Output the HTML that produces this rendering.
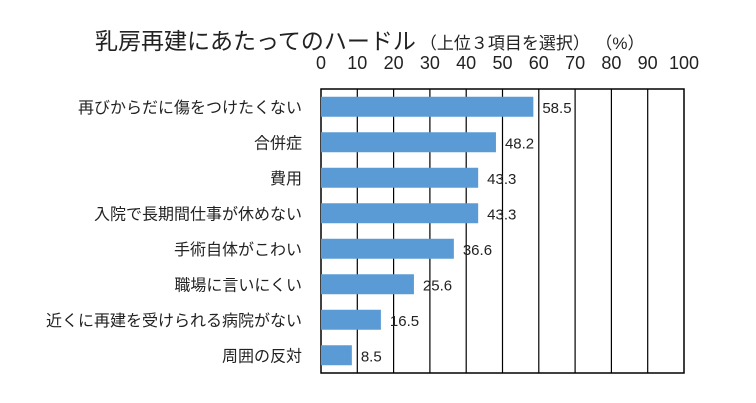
<!DOCTYPE html>
<html><head><meta charset="utf-8"><style>
body{margin:0;background:#fff;}
svg{display:block;font-family:"Liberation Sans","Noto Sans CJK JP",sans-serif;}
</style></head><body>
<svg id="c" width="756" height="403">
<text x="95" y="49" font-size="23" fill="#222">乳房再建にあたってのハードル<tspan font-size="17" dx="4">（上位３項目を選択）</tspan><tspan font-size="17" dx="14">（%）</tspan></text>
</svg>
<script>
const categories=["再びからだに傷をつけたくない","合併症","費用","入院で長期間仕事が休めない","手術自体がこわい","職場に言いにくい","近くに再建を受けられる病院がない","周囲の反対"];
const values=[58.5,48.2,43.3,43.3,36.6,25.6,16.5,8.5];
const ticks=[0,10,20,30,40,50,60,70,80,90,100];
const svg=document.getElementById('c');
const NS='http://www.w3.org/2000/svg';
const L=321,R=684,T=89,B=373;
const x=v=>L+(v/100)*(R-L);
const rowH=(B-T)/categories.length;
const y=i=>T+rowH*(i+0.5);
function mk(t,a){const e=document.createElementNS(NS,t);for(const k in a)e.setAttribute(k,a[k]);svg.appendChild(e);return e;}
const frame=mk('rect',{x:L,y:T,width:R-L,height:B-T,fill:'none',stroke:'#000','stroke-width':1.5});


ticks.forEach(t=>{
  if(t>0&&t<100){const g=mk('line',{x1:x(t),x2:x(t),y1:T,y2:B,stroke:'#000','stroke-width':1.2});
  
  }
  const tx=mk('text',{x:x(t),y:69,'font-size':18,'text-anchor':'middle',fill:'#222'});
  tx.textContent=t;
  
  
});
categories.forEach((c,i)=>{
  const b=mk('rect',{x:L,y:y(i)-10,width:x(values[i])-L,height:20,fill:'#5b9bd5'});
  
  
  const lb=mk('text',{x:302,y:y(i)+6,'font-size':16,'text-anchor':'end',fill:'#222'});
  lb.textContent=c;
  
  
  const v=mk('text',{x:x(values[i])+9,y:y(i)+6,'font-size':15,fill:'#222'});
  v.textContent=values[i];
  
  
});
</script>
</body></html>
